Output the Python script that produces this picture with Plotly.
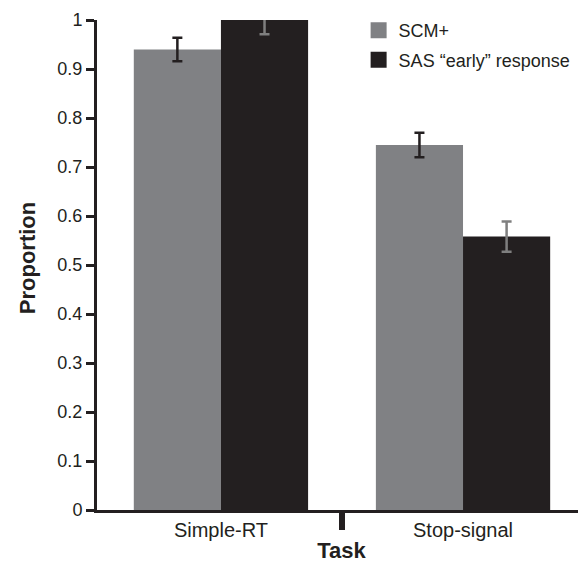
import plotly.graph_objects as go

categories = ["Simple-RT", "Stop-signal"]
scm_values = [0.94, 0.745]
scm_errors = [0.024, 0.025]
sas_values = [1.0, 0.558]
sas_errors = [0.029, 0.031]
series_names = ["SCM+", "SAS \u201cearly\u201d response"]
y_ticks = [0, 0.1, 0.2, 0.3, 0.4, 0.5, 0.6, 0.7, 0.8, 0.9, 1]
y_tick_labels = ["0", "0.1", "0.2", "0.3", "0.4", "0.5", "0.6", "0.7", "0.8", "0.9", "1"]

GRAY = "#808184"
BLACK = "#231f20"
FONT = "Liberation Sans, Arial, sans-serif"

fig = go.Figure()
fig.add_trace(go.Bar(
    x=categories, y=scm_values, name=series_names[0], showlegend=False,
    marker=dict(color=GRAY, line=dict(width=0)),
    error_y=dict(type="data", array=scm_errors, color=BLACK, thickness=2.5, width=5),
))
fig.add_trace(go.Bar(
    x=categories, y=sas_values, name=series_names[1], showlegend=False,
    marker=dict(color=BLACK, line=dict(width=0)),
    error_y=dict(type="data", array=sas_errors, color="#7f7f7f", thickness=2.5, width=5),
))

# legend entries with larger square swatches
for name, col, grp in [(series_names[0], GRAY, "a"), (series_names[1], BLACK, "b")]:
    fig.add_trace(go.Scatter(
        x=[None], y=[None], mode="markers", name=name, legendgroup=grp,
        marker=dict(symbol="square", size=20, color=col, line=dict(width=0)),
        hoverinfo="skip",
    ))

# invisible trace on the overlay axis so it gets drawn
fig.add_trace(go.Scatter(x=[0, 1], y=[None, None], xaxis="x2", showlegend=False,
                         hoverinfo="skip", mode="markers"))

xr = [-0.512, 1.508]
fig.update_layout(
    width=578, height=555,
    margin=dict(l=89, r=0, t=12, b=53, autoexpand=False),
    paper_bgcolor="white", plot_bgcolor="white",
    barmode="group", bargap=0.28, bargroupgap=0,
    font=dict(family=FONT, size=18, color=BLACK),
    showlegend=True,
    legend=dict(x=0.535, y=1.016, xanchor="left", yanchor="top",
                font=dict(size=18, color=BLACK), bgcolor="rgba(0,0,0,0)",
                traceorder="grouped", tracegroupgap=3, itemsizing="trace"),
    xaxis=dict(
        type="category", range=xr, showgrid=False, zeroline=False,
        showline=True, linecolor=BLACK, linewidth=3, ticks="",
        tickfont=dict(size=20, color=BLACK),
        title=dict(text="<b>Task</b>", font=dict(size=22, color=BLACK), standoff=6),
    ),
    xaxis2=dict(
        overlaying="x", range=xr, showgrid=False, zeroline=False,
        showline=False, tickmode="array", tickvals=[0.5], ticktext=[""],
        ticks="outside", ticklen=19, tickwidth=6, tickcolor=BLACK,
        side="bottom", anchor="y",
    ),
    yaxis=dict(
        range=[0, 1], showgrid=False, zeroline=False,
        showline=True, linecolor=BLACK, linewidth=3,
        tickmode="array", tickvals=y_ticks, ticktext=y_tick_labels,
        ticks="outside", ticklen=8, tickwidth=3, tickcolor=BLACK,
        tickfont=dict(size=18, color=BLACK),
    ),
    annotations=[dict(
        text="<b>Proportion</b>", textangle=-90, xref="paper", yref="paper",
        x=-0.143, y=0.514, xanchor="center", yanchor="middle", showarrow=False,
        font=dict(size=22, color=BLACK),
    )],
)

fig.write_html("out.html")
